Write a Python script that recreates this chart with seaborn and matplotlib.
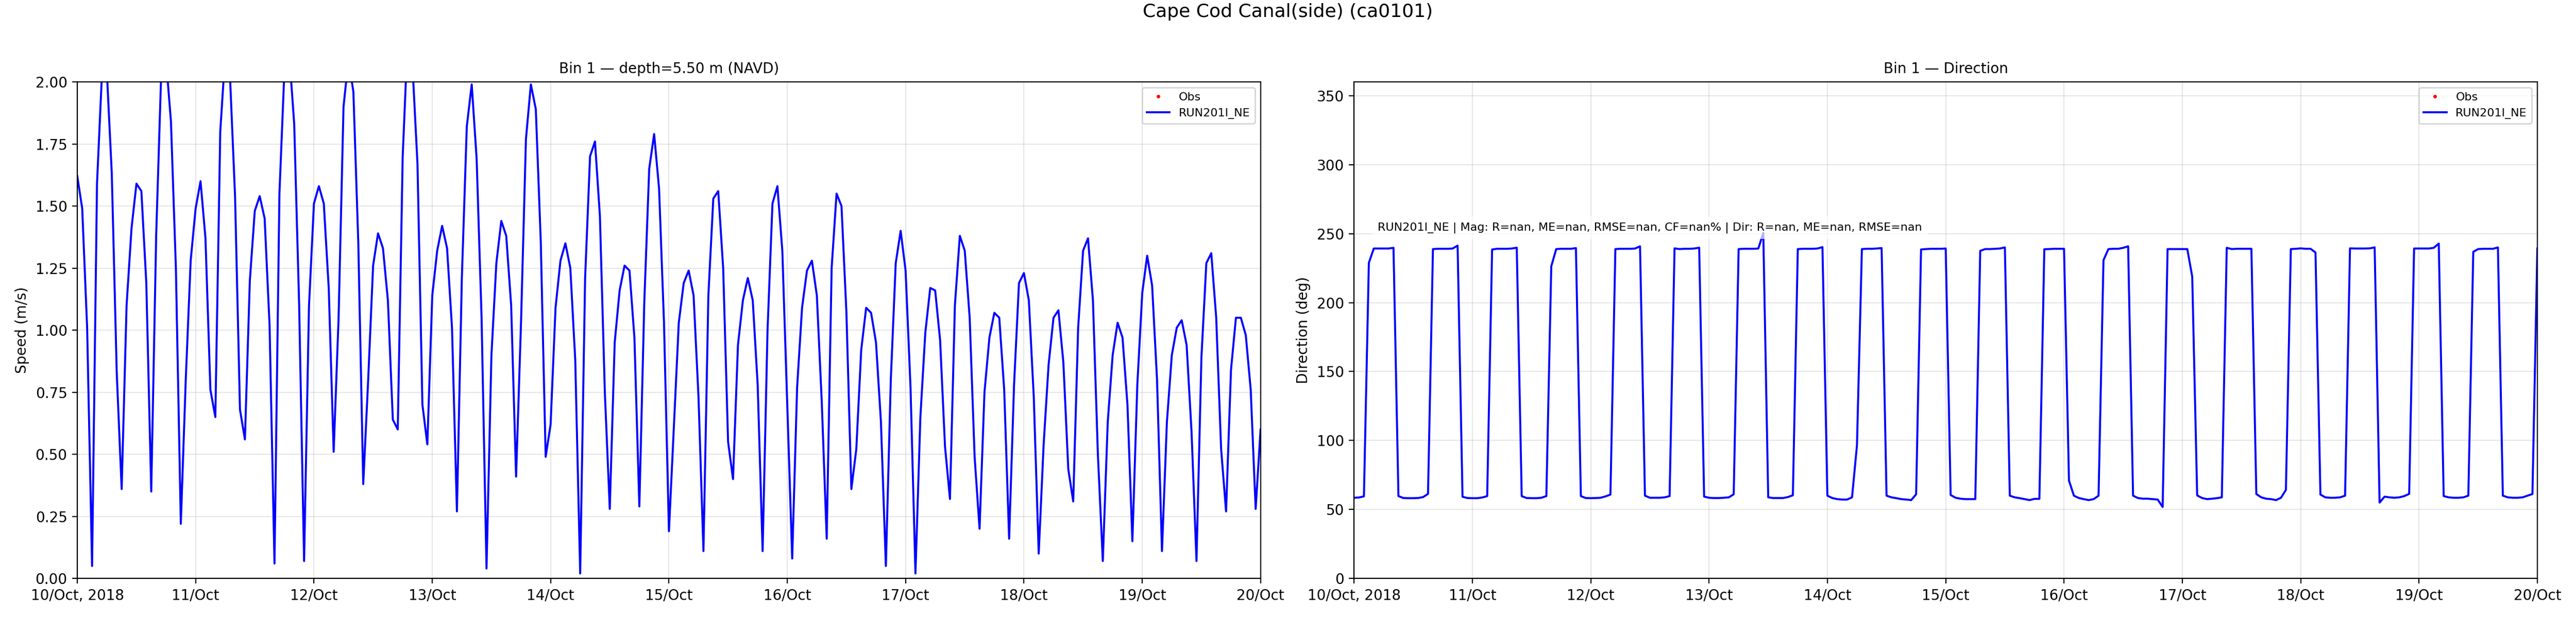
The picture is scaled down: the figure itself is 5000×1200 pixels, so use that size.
import pandas as pd
import numpy as np
import matplotlib
matplotlib.use("Agg")
import matplotlib.pyplot as plt
import seaborn as sns

# hourly model output, 10/Oct/2018 00:00 -> 20/Oct/2018 00:00
start = "2018-10-10 00:00"

speed = [
    1.62, 1.49, 1.01, 0.05, 1.59, 2.03, 2.04, 1.63, 0.83, 0.36, 1.10, 1.41,
    1.59, 1.56, 1.19, 0.35, 1.38, 2.02, 2.09, 1.84, 1.25, 0.22, 0.80, 1.28,
    1.49, 1.60, 1.37, 0.76, 0.65, 1.80, 2.11, 2.01, 1.54, 0.68, 0.56, 1.20,
    1.48, 1.54, 1.45, 1.02, 0.06, 1.55, 2.04, 2.11, 1.83, 1.10, 0.07, 1.10,
    1.51, 1.58, 1.51, 1.17, 0.51, 1.05, 1.90, 2.09, 1.96, 1.35, 0.38, 0.80,
    1.26, 1.39, 1.33, 1.12, 0.64, 0.60, 1.70, 2.17, 2.06, 1.67, 0.70, 0.54,
    1.14, 1.32, 1.42, 1.33, 1.01, 0.27, 1.21, 1.82, 1.99, 1.69, 1.05, 0.04,
    0.90, 1.27, 1.44, 1.38, 1.10, 0.41, 1.03, 1.77, 1.99, 1.89, 1.36, 0.49,
    0.62, 1.09, 1.28, 1.35, 1.25, 0.88, 0.02, 1.21, 1.70, 1.76, 1.46, 0.75,
    0.28, 0.95, 1.16, 1.26, 1.24, 0.97, 0.29, 1.11, 1.65, 1.79, 1.57, 1.03,
    0.19, 0.61, 1.03, 1.19, 1.24, 1.14, 0.73, 0.11, 1.14, 1.53, 1.56, 1.25,
    0.55, 0.40, 0.94, 1.12, 1.21, 1.12, 0.78, 0.11, 1.00, 1.51, 1.58, 1.32,
    0.70, 0.08, 0.77, 1.09, 1.24, 1.28, 1.14, 0.71, 0.16, 1.25, 1.55, 1.50,
    1.07, 0.36, 0.52, 0.92, 1.09, 1.07, 0.95, 0.63, 0.05, 0.80, 1.27, 1.40,
    1.24, 0.77, 0.02, 0.65, 0.99, 1.17, 1.16, 0.96, 0.53, 0.32, 1.10, 1.38,
    1.32, 1.05, 0.49, 0.20, 0.75, 0.97, 1.07, 1.05, 0.76, 0.16, 0.78, 1.19,
    1.23, 1.12, 0.73, 0.10, 0.54, 0.86, 1.05, 1.08, 0.87, 0.44, 0.31, 1.01,
    1.32, 1.37, 1.12, 0.50, 0.07, 0.63, 0.90, 1.03, 0.97, 0.70, 0.15, 0.78,
    1.15, 1.30, 1.18, 0.80, 0.11, 0.63, 0.90, 1.01, 1.04, 0.94, 0.59, 0.07,
    0.89, 1.27, 1.31, 1.05, 0.52, 0.27, 0.84, 1.05, 1.05, 0.98, 0.76, 0.28,
    0.60,
]

direction = [
    58.5, 58.7, 59.5, 228.8, 239.2, 239.2, 239.2, 239.2, 239.7, 59.7, 58.3, 58.2,
    58.2, 58.3, 59.0, 61.3, 238.8, 239.0, 239.0, 239.0, 239.2, 241.3, 59.2, 58.3,
    58.2, 58.2, 58.7, 59.7, 238.5, 239.0, 239.0, 239.0, 239.2, 239.8, 59.7, 58.3,
    58.2, 58.2, 58.5, 59.7, 226.3, 238.8, 239.0, 239.0, 239.0, 239.5, 59.7, 58.3,
    58.2, 58.3, 58.5, 59.5, 60.8, 238.8, 239.0, 239.0, 239.0, 239.2, 240.8, 60.0,
    58.5, 58.5, 58.5, 58.8, 59.7, 239.3, 238.8, 239.0, 239.0, 239.2, 239.8, 59.3,
    58.5, 58.3, 58.3, 58.5, 58.8, 61.0, 238.8, 239.0, 239.0, 239.0, 239.2, 250.5,
    58.8, 58.3, 58.3, 58.3, 59.0, 60.3, 238.8, 239.0, 239.0, 239.0, 239.2, 240.2,
    60.0, 58.3, 57.5, 57.2, 57.2, 58.8, 96.5, 238.8, 239.0, 239.0, 239.2, 239.5,
    60.0, 58.8, 58.2, 57.5, 57.2, 56.8, 61.0, 238.5, 238.8, 239.0, 239.0, 239.0,
    239.2, 60.5, 58.5, 57.8, 57.5, 57.5, 57.5, 237.5, 238.8, 238.8, 239.0, 239.2,
    240.0, 60.0, 58.8, 58.2, 57.5, 56.8, 57.7, 57.7, 238.7, 238.8, 239.0, 239.0,
    239.0, 71.0, 60.0, 58.3, 57.5, 56.8, 57.5, 60.0, 230.8, 238.8, 239.0, 239.0,
    239.7, 240.8, 60.0, 58.3, 57.8, 57.8, 57.5, 57.2, 51.8, 238.8, 238.8, 238.8,
    238.8, 238.8, 218.8, 60.2, 58.3, 57.5, 57.8, 58.2, 58.8, 239.7, 238.8, 239.0,
    239.0, 239.0, 239.0, 61.2, 58.8, 57.8, 57.5, 56.8, 58.5, 64.2, 238.8, 239.0,
    239.3, 239.0, 239.0, 236.3, 60.8, 58.8, 58.5, 58.5, 58.8, 60.0, 239.3, 239.2,
    239.2, 239.2, 239.3, 240.0, 55.0, 59.3, 58.8, 58.5, 58.8, 59.7, 61.3, 239.2,
    239.2, 239.2, 239.2, 239.7, 242.8, 59.7, 58.8, 58.5, 58.5, 58.8, 60.0, 236.8,
    238.8, 239.0, 239.0, 239.0, 240.0, 60.0, 58.8, 58.5, 58.5, 58.8, 60.0, 61.2,
    239.2,
]

tick_labels = ["10/Oct, 2018", "11/Oct", "12/Oct", "13/Oct", "14/Oct", "15/Oct",
               "16/Oct", "17/Oct", "18/Oct", "19/Oct", "20/Oct"]

model_name = "RUN201I_NE"
stats_text = ("RUN201I_NE | Mag: R=nan, ME=nan, RMSE=nan, CF=nan% | "
              "Dir: R=nan, ME=nan, RMSE=nan")

df_spd = pd.DataFrame({"time": pd.date_range(start, periods=len(speed), freq="h"),
                       "speed": speed})
df_dir = pd.DataFrame({"time": pd.date_range(start, periods=len(direction), freq="h"),
                       "direction": direction})
ticks = pd.date_range("2018-10-10", "2018-10-20", freq="D")

fig, axs = plt.subplots(1, 2, figsize=(25, 6), dpi=200)
fig.subplots_adjust(left=0.03, right=0.985, top=0.8675, bottom=0.064, wspace=0.079)

# speed panel
ax = axs[0]
ax.plot([], [], "r.", markersize=3, label="Obs")  # no observations in this window
sns.lineplot(data=df_spd, x="time", y="speed", ax=ax, color="blue", lw=1.4, label=model_name)
ax.set_ylim(0, 2)
ax.set_ylabel("Speed (m/s)")
ax.set_title("Bin 1 \u2014 depth=5.50 m (NAVD)", fontsize=10)

# direction panel
ax = axs[1]
ax.plot([], [], "r.", markersize=3, label="Obs")
sns.lineplot(data=df_dir, x="time", y="direction", ax=ax, color="blue", lw=1.4, label=model_name)
ax.set_ylim(0, 360)
ax.set_ylabel("Direction (deg)")
ax.set_title("Bin 1 \u2014 Direction", fontsize=10)
ax.text(0.02, 0.695, stats_text, transform=ax.transAxes, fontsize=8, va="bottom",
        bbox=dict(facecolor="white", alpha=0.7, edgecolor="none"))

for ax in axs:
    ax.set_xlim(ticks[0], ticks[-1])
    ax.set_xticks(ticks)
    ax.set_xticklabels(tick_labels)
    ax.set_xlabel("")
    ax.grid(True, alpha=0.3)
    ax.legend(loc="upper right", fontsize=8)

fig.suptitle("Cape Cod Canal(side) (ca0101)", fontsize=13, y=0.995, va="top")

plt.savefig("out.png", dpi=200)
